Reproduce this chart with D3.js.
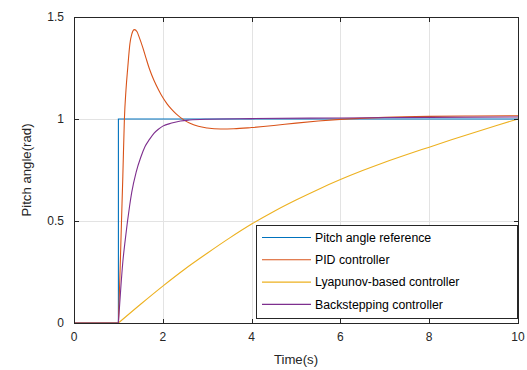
<!DOCTYPE html>
<html><head><meta charset="utf-8">
<script src="https://cdn.jsdelivr.net/npm/d3@7"></script>
<style>body{margin:0;background:#fff}svg{display:block}</style>
</head><body>
<svg id="c" width="527" height="370"></svg>
<script>
const xTicks = [0, 2, 4, 6, 8, 10];
const yTicks = [0, 0.5, 1, 1.5];
const yTickLabels = ["0", "0.5", "1", "1.5"];
const seriesNames = ["Pitch angle reference", "PID controller", "Lyapunov-based controller", "Backstepping controller"];
const seriesColors = ["#0072BD", "#D95319", "#EDB120", "#7E2F8E"];

const refT = [0, 1, 1, 10];
const refV = [0, 0, 1, 1];

const pidT = [0, 1.0, 1.03, 1.07, 1.1, 1.135, 1.17, 1.21, 1.26, 1.3, 1.36, 1.42, 1.47, 1.55, 1.62, 1.7, 1.8, 1.9, 2.0, 2.1, 2.2, 2.3, 2.4, 2.5, 2.6, 2.8, 3.0, 3.3, 3.6, 4.0, 4.5, 5.0, 5.5, 6.0, 7.0, 8.0, 9.0, 10.0];
const pidV = [0, 0, 0.2, 0.5, 0.72, 1.0, 1.14, 1.25, 1.37, 1.415, 1.438, 1.428, 1.40, 1.35, 1.30, 1.245, 1.19, 1.145, 1.105, 1.073, 1.047, 1.025, 1.007, 0.992, 0.98, 0.964, 0.956, 0.951, 0.952, 0.958, 0.968, 0.98, 0.99, 0.998, 1.008, 1.013, 1.015, 1.016];

const lyaT = [0, 1, 1.5, 2, 2.5, 3, 3.5, 4, 4.5, 5, 5.5, 6, 6.5, 7, 7.5, 8, 8.5, 9, 9.5, 10];
const lyaV = [0, 0, 0.092, 0.181, 0.265, 0.342, 0.416, 0.485, 0.547, 0.603, 0.655, 0.703, 0.747, 0.788, 0.826, 0.862, 0.898, 0.933, 0.967, 1.0];

const bsT = [0, 1, 1.05, 1.1, 1.15, 1.2, 1.25, 1.3, 1.4, 1.5, 1.6, 1.7, 1.8, 1.9, 2.0, 2.2, 2.4, 2.6, 3.0, 4.0, 6.0, 8.0, 10.0];
const bsV = [0, 0, 0.16, 0.30, 0.40, 0.49, 0.57, 0.64, 0.74, 0.81, 0.865, 0.90, 0.93, 0.95, 0.965, 0.98, 0.99, 0.995, 0.999, 1.002, 1.005, 1.008, 1.01];

const svg = d3.select("#c");
const L = 74, R = 518, T = 17, B = 323;
const x = d3.scaleLinear().domain([0, 10]).range([L, R]);
const y = d3.scaleLinear().domain([0, 1.5]).range([B, T]);
const ink = "#262626";
const font = "Arial, 'Liberation Sans', Helvetica, sans-serif";

// grid
const g = svg.append("g");
g.selectAll(".gx").data(xTicks.slice(1, -1)).enter().append("line")
  .attr("x1", d => Math.round(x(d)) + 0.5).attr("x2", d => Math.round(x(d)) + 0.5)
  .attr("y1", T).attr("y2", B).attr("stroke", "#e3e3e3").attr("stroke-width", 1);
g.selectAll(".gy").data(yTicks.slice(1, -1)).enter().append("line")
  .attr("y1", d => Math.round(y(d)) + 0.5).attr("y2", d => Math.round(y(d)) + 0.5)
  .attr("x1", L).attr("x2", R).attr("stroke", "#e3e3e3").attr("stroke-width", 1);

// series: flat part before t=1 drawn linearly, response part drawn smoothly
const data = [
  [refT, refV, d3.curveLinear],
  [pidT, pidV, d3.curveMonotoneX],
  [lyaT, lyaV, d3.curveMonotoneX],
  [bsT, bsV, d3.curveMonotoneX]
];
data.forEach((s, i) => {
  const pts = s[0].map((t, k) => [t, s[1][k]]);
  const color = seriesColors[i];
  if (i === 0) {
    const line = d3.line().x(d => x(d[0])).y(d => y(d[1]));
    svg.append("path").attr("d", line(pts)).attr("fill", "none")
      .attr("stroke", color).attr("stroke-width", 1.1);
    return;
  }
  const flat = pts.filter(p => p[0] <= 1);
  const rise = pts.filter(p => p[0] >= 1);
  const lin = d3.line().x(d => x(d[0])).y(d => y(d[1]));
  const smooth = d3.line().x(d => x(d[0])).y(d => y(d[1])).curve(s[2]);
  svg.append("path").attr("d", lin(flat)).attr("fill", "none")
    .attr("stroke", color).attr("stroke-width", 1.1);
  svg.append("path").attr("d", smooth(rise)).attr("fill", "none")
    .attr("stroke", color).attr("stroke-width", 1.1);
});

// box
svg.append("rect").attr("x", L + 0.5).attr("y", T + 0.5).attr("width", R - L).attr("height", B - T)
  .attr("fill", "none").attr("stroke", ink).attr("stroke-width", 1);

// ticks
const tl = 4.5;
xTicks.forEach(d => {
  const xx = Math.round(x(d)) + 0.5;
  svg.append("line").attr("x1", xx).attr("x2", xx).attr("y1", B + 0.5).attr("y2", B + 0.5 - tl).attr("stroke", ink);
  svg.append("line").attr("x1", xx).attr("x2", xx).attr("y1", T + 0.5).attr("y2", T + 0.5 + tl).attr("stroke", ink);
  svg.append("text").attr("x", x(d)).attr("y", B + 18).attr("text-anchor", "middle")
    .attr("font-family", font).attr("font-size", 12).attr("fill", ink).text(d);
});
yTicks.forEach((d, i) => {
  const yy = Math.round(y(d)) + 0.5;
  svg.append("line").attr("y1", yy).attr("y2", yy).attr("x1", L + 0.5).attr("x2", L + 0.5 + tl).attr("stroke", ink);
  svg.append("line").attr("y1", yy).attr("y2", yy).attr("x1", R + 0.5).attr("x2", R + 0.5 - tl).attr("stroke", ink);
  svg.append("text").attr("x", L - 10).attr("y", y(d)).attr("dy", "0.35em").attr("text-anchor", "end")
    .attr("font-family", font).attr("font-size", 12).attr("fill", ink).text(yTickLabels[i]);
});

// axis labels
svg.append("text").attr("x", (L + R) / 2).attr("y", 364).attr("text-anchor", "middle")
  .attr("font-family", font).attr("font-size", 13.2).attr("fill", ink).text("Time(s)");
svg.append("text").attr("transform", `translate(31,${(T + B) / 2}) rotate(-90)`).attr("text-anchor", "middle")
  .attr("font-family", font).attr("font-size", 13.2).attr("fill", ink).text("Pitch angle(rad)");

// legend
const lg = svg.append("g");
const lx = 256, ly = 225, lw = 261, lh = 93;
lg.append("rect").attr("x", lx + 0.5).attr("y", ly + 0.5).attr("width", lw).attr("height", lh)
  .attr("fill", "#fff").attr("stroke", ink).attr("stroke-width", 1);
seriesNames.forEach((n, i) => {
  const yy = 237.5 + i * 22.3;
  lg.append("line").attr("x1", 262).attr("x2", 311).attr("y1", yy).attr("y2", yy)
    .attr("stroke", seriesColors[i]).attr("stroke-width", 1.1);
  lg.append("text").attr("x", 315).attr("y", yy).attr("dy", "0.35em")
    .attr("font-family", font).attr("font-size", 12.3).attr("fill", "#000").text(n);
});
</script>
</body></html>
